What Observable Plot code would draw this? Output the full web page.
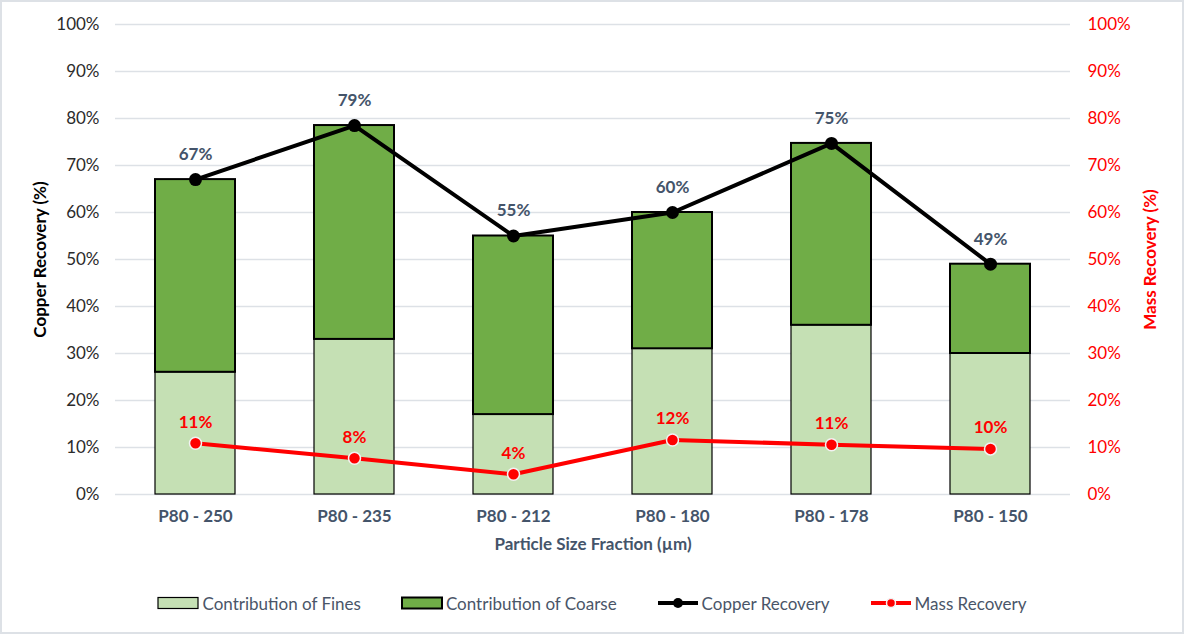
<!DOCTYPE html>
<html>
<head>
<meta charset="utf-8">
<script src="https://cdn.jsdelivr.net/npm/d3@7"></script>
<script src="https://cdn.jsdelivr.net/npm/@observablehq/plot@0.6"></script>
<style>
  html, body { margin: 0; padding: 0; background: #fff; }
  #frame { width: 1184px; height: 634px; box-sizing: border-box; border: 2px solid #dde1e6; background: #fff; font-family: Lato, sans-serif; overflow: hidden; }
  #legend { display: flex; justify-content: center; align-items: center; gap: 40px; margin-top: 19px; height: 20px; font-size: 17px; color: #4a5568; }
  .item { display: flex; align-items: center; gap: 3px; }
</style>
</head>
<body>
<div id="frame">
  <div id="chart"></div>
  <div id="legend"></div>
</div>
<script>
const categories = ["P80 - 250", "P80 - 235", "P80 - 212", "P80 - 180", "P80 - 178", "P80 - 150"];
const fines = [26, 33, 17, 31, 36, 30];
const copperRecovery = [67, 78.5, 55, 60, 74.7, 49];
const massRecovery = [10.9, 7.7, 4.3, 11.6, 10.6, 9.7];
const yTicks = [0, 10, 20, 30, 40, 50, 60, 70, 80, 90, 100];
const seriesNames = ["Contribution of Fines", "Contribution of Coarse", "Copper Recovery", "Mass Recovery"];
const xTitle = "Particle Size Fraction (µm)";
const yLeftTitle = "Copper Recovery (%)";
const yRightTitle = "Mass Recovery (%)";

const colors = { fines: "#C5E0B4", coarse: "#70AD47", copper: "#000000", mass: "#FF0000", label: "#44546A" };

const rows = categories.map((c, i) => ({
  cat: c, fines: fines[i], total: copperRecovery[i], copper: copperRecovery[i], mass: massRecovery[i]
}));

const fmt = d => `${Math.round(d)}%`;

const chart = Plot.plot({
  width: 1180,
  height: 572,
  marginTop: 22,
  marginBottom: 80,
  marginLeft: 113,
  marginRight: 112,
  style: { fontFamily: "Lato, sans-serif", fontSize: "16px", background: "#fff" },
  x: { domain: categories, type: "band", paddingInner: 0.5, paddingOuter: 0.25, label: null },
  y: { domain: [0, 100], label: null },
  marks: [
    Plot.gridY(yTicks, { stroke: "#dde1e6", strokeOpacity: 1, strokeWidth: 1.5 }),
    Plot.barY(rows, { x: "cat", y1: 0, y2: "fines", fill: colors.fines, stroke: "#000", strokeWidth: 1.2 }),
    Plot.barY(rows, { x: "cat", y1: "fines", y2: "total", fill: colors.coarse, stroke: "#000", strokeWidth: 2 }),
    Plot.axisX({ tickSize: 0, tickPadding: 15, fill: colors.label, fontWeight: "bold", fontSize: 17, label: null }),
    Plot.axisY(yTicks, { anchor: "left", tickSize: 0, tickPadding: 16, tickFormat: d => d + "%", fill: "#2b2b2b", fontSize: 17, label: null }),
    Plot.axisY(yTicks, { anchor: "right", tickSize: 0, tickPadding: 17, tickFormat: d => d + "%", fill: colors.mass, fontSize: 17, label: null }),
    Plot.line(rows, { x: "cat", y: "copper", stroke: colors.copper, strokeWidth: 4 }),
    Plot.dot(rows, { x: "cat", y: "copper", r: 6.5, fill: colors.copper, stroke: "none" }),
    Plot.text(rows, { x: "cat", y: "copper", text: d => fmt(d.copper), dy: -25, fill: colors.label, fontWeight: "bold", fontSize: 17 }),
    Plot.line(rows, { x: "cat", y: "mass", stroke: colors.mass, strokeWidth: 4 }),
    Plot.dot(rows, { x: "cat", y: "mass", r: 6, fill: colors.mass, stroke: "#f2f2f2", strokeWidth: 1.5 }),
    Plot.text(rows, { x: "cat", y: "mass", text: d => fmt(d.mass), dy: -21, fill: colors.mass, fontWeight: "bold", fontSize: 17 }),
    Plot.text([xTitle], { frameAnchor: "bottom", dy: 55, fill: colors.label, fontWeight: "bold", fontSize: 17 }),
    Plot.text([yLeftTitle], { frameAnchor: "left", textAnchor: "middle", rotate: -90, dx: -75, fill: "#000", fontWeight: "bold", fontSize: 17 }),
    Plot.text([yRightTitle], { frameAnchor: "right", textAnchor: "middle", rotate: -90, dx: 80, fill: colors.mass, fontWeight: "bold", fontSize: 17 })
  ]
});
document.getElementById("chart").appendChild(chart);

// Legend
const legend = d3.select("#legend");
const swatch = (item, kind) => {
  const svg = item.append("svg").attr("width", 42).attr("height", 14);
  if (kind === 0) svg.append("rect").attr("x", 1).attr("y", 1.5).attr("width", 40).attr("height", 11).attr("fill", colors.fines).attr("stroke", "#000").attr("stroke-width", 1.2);
  if (kind === 1) svg.append("rect").attr("x", 1).attr("y", 1.5).attr("width", 40).attr("height", 11).attr("fill", colors.coarse).attr("stroke", "#000").attr("stroke-width", 2);
  if (kind === 2) {
    svg.append("line").attr("x1", 1).attr("x2", 41).attr("y1", 7).attr("y2", 7).attr("stroke", colors.copper).attr("stroke-width", 4);
    svg.append("circle").attr("cx", 21).attr("cy", 7).attr("r", 5).attr("fill", colors.copper);
  }
  if (kind === 3) {
    svg.append("line").attr("x1", 1).attr("x2", 41).attr("y1", 7).attr("y2", 7).attr("stroke", colors.mass).attr("stroke-width", 4);
    svg.append("circle").attr("cx", 21).attr("cy", 7).attr("r", 4.5).attr("fill", colors.mass).attr("stroke", "#f2f2f2").attr("stroke-width", 1.5);
  }
};
seriesNames.forEach((name, i) => {
  const item = legend.append("div").attr("class", "item");
  swatch(item, i);
  item.append("span").text(name);
});
</script>
</body>
</html>
